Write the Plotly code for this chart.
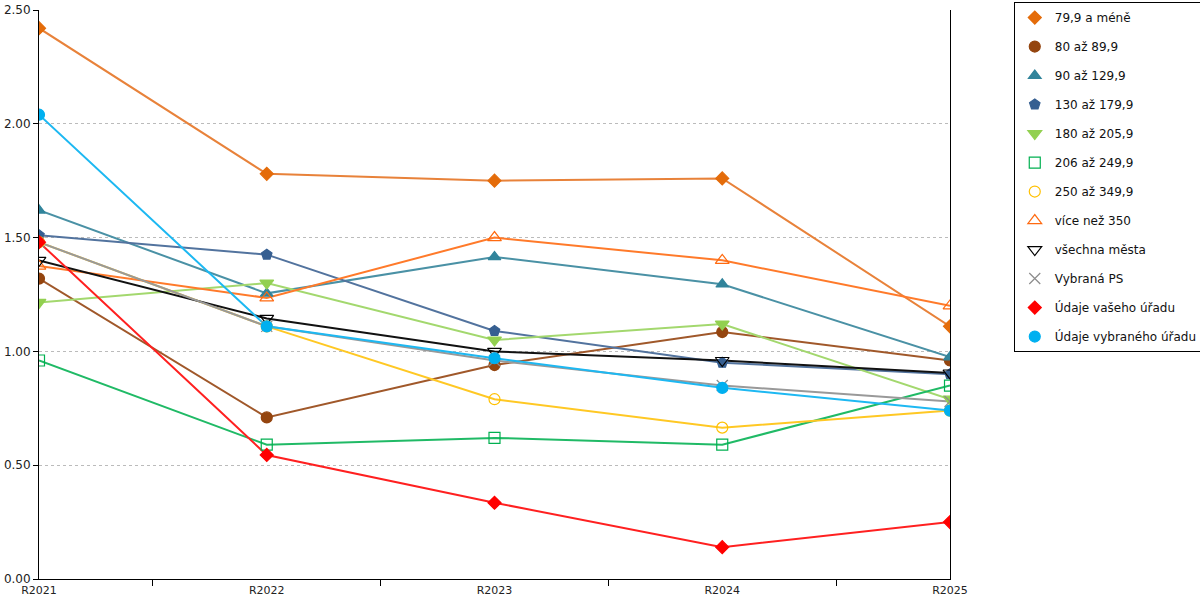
import plotly.graph_objects as go

years = ["R2021", "R2022", "R2023", "R2024", "R2025"]

names = [
    "79,9 a méně", "80 až 89,9", "90 až 129,9", "130 až 179,9",
    "180 až 205,9", "206 až 249,9", "250 až 349,9", "více než 350",
    "všechna města", "Vybraná PS", "Údaje vašeho úřadu", "Údaje vybraného úřadu",
]

v_79 = [2.42, 1.78, 1.75, 1.76, 1.11]
v_80 = [1.32, 0.71, 0.94, 1.085, 0.96]
v_90 = [1.62, 1.255, 1.415, 1.295, 0.975]
v_130 = [1.51, 1.425, 1.09, 0.95, 0.90]
v_180 = [1.215, 1.30, 1.05, 1.12, 0.79]
v_206 = [0.96, 0.59, 0.62, 0.59, 0.85]
v_250 = [1.48, 1.11, 0.79, 0.665, 0.74]
v_350 = [1.375, 1.235, 1.50, 1.40, 1.20]
v_all = [1.40, 1.145, 1.00, 0.96, 0.905]
v_ps = [1.48, 1.11, 0.96, 0.85, 0.78]
v_vas = [1.48, 0.545, 0.335, 0.14, 0.25]
v_vybr = [2.04, 1.11, 0.97, 0.84, 0.74]

values = [v_79, v_80, v_90, v_130, v_180, v_206, v_250, v_350, v_all, v_ps, v_vas, v_vybr]

colors = ["#E46C0A", "#94450F", "#31849B", "#365F91", "#92D050", "#00B050",
          "#FFC000", "#FF6A10", "#000000", "#8C8C8C", "#FF0000", "#00B0F0"]
line_colors = ["#E8823A", "#A0582A", "#4A91A5", "#52739E", "#A3D86E", "#20BA66",
               "#FFC824", "#FF7A2A", "#111111", "#999999", "#FF2020", "#1DB8F2"]
symbols = ["diamond", "circle", "triangle-up", "pentagon", "triangle-down", "square-open",
           "circle-open", "triangle-up-open", "triangle-down-open", "x-thin-open", "diamond", "circle"]
sizes = [10, 11, 11, 11, 12, 11, 11, 12, 12, 11, 10, 11]

fig = go.Figure()
# lines and markers as separate traces so the legend shows only the symbol
for i, name in enumerate(names):
    fig.add_trace(go.Scatter(
        x=years, y=values[i], mode="lines", name=name,
        line=dict(color=line_colors[i], width=2),
        showlegend=False, hoverinfo="skip",
    ))
for i, name in enumerate(names):
    fig.add_trace(go.Scatter(
        x=years, y=values[i], mode="markers", name=name,
        legendgroup=str(i),
        marker=dict(symbol=symbols[i], size=sizes[i], color=colors[i],
                    line=dict(color=colors[i], width=1.2)),
    ))

fig.update_layout(
    width=1200, height=600,
    paper_bgcolor="white", plot_bgcolor="white",
    font=dict(family="DejaVu Sans", size=11, color="#222222"),
    margin=dict(l=39, r=250, t=10, b=21, autoexpand=False),
    xaxis=dict(
        type="category", range=[0, 4], tickson="boundaries",
        ticks="outside", ticklen=6, tickcolor="black",
        showline=True, linecolor="black", linewidth=1,
        showgrid=False, zeroline=False, automargin=False,
        ticklabelstandoff=1,
    ),
    yaxis=dict(
        range=[0, 2.5], dtick=0.5, tickformat=".2f",
        ticks="outside", ticklen=5, tickcolor="black",
        showline=True, linecolor="black", linewidth=1, mirror=True,
        showgrid=True, gridcolor="#BBBBBB", griddash="dot", gridwidth=1,
        zeroline=False, automargin=False, tickfont=dict(size=12),
    ),
    legend=dict(
        x=1.07, y=1.014, xanchor="left", yanchor="top",
        bordercolor="black", borderwidth=1, maxheight=1,
        font=dict(family="DejaVu Sans", size=12, color="#111111"),
        tracegroupgap=10, itemwidth=30,
    ),
)

fig.write_html("out.html", config={"displayModeBar": False},
               post_script="document.body.style.margin='0';")
